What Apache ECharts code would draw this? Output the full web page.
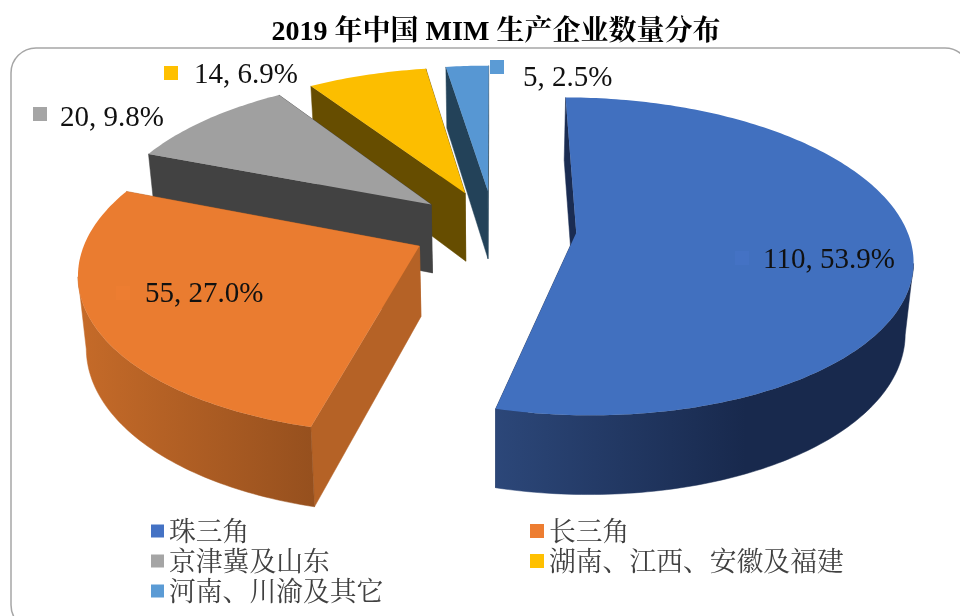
<!DOCTYPE html>
<html>
<head>
<meta charset="utf-8">
<style>html,body{margin:0;padding:0;background:#fff}#c{width:960px;height:616px}</style>
<script src="https://cdn.jsdelivr.net/npm/echarts@6/dist/echarts.min.js"></script>
</head>
<body>
<div id="c"></div>
<script>
const categories = ['珠三角', '长三角', '京津冀及山东', '湖南、江西、安徽及福建', '河南、川渝及其它'];
const values = [110, 55, 20, 14, 5];
const titleText = '2019 年中国 MIM 生产企业数量分布';

const keyColors = ['#4472C4', '#ED7D31', '#A5A5A5', '#FFC000', '#5B9BD5'];
const topColors = ['#4170BF', '#EA7C30', '#A0A0A0', '#FCBE00', '#5797D3'];
const wallColors = ['#1A2C52', '#B56226', '#424242', '#664D00', '#234259'];
const rimStops = [
  [[0, '#2C4779'], [0.6, '#18294D'], [1, '#18294D']],
  [[0, '#C66B29'], [1, '#96501E']],
  [[0, '#424242'], [1, '#424242']],
  [[0, '#664D00'], [1, '#664D00']],
  [[0, '#234259'], [1, '#234259']]
];
const rimSpan = [[495, 912], [75, 313], [100, 430], [300, 470], [440, 490]];
const drawOrder = [4, 3, 2, 1, 0];
const labelAt = [[763, 260], [145, 294], [60, 118], [194, 75], [523, 78]];
const keyAt = [[735, 251], [116, 286], [33, 107], [164, 66], [490, 60]];

const firstAngle = 0, explosion = 0.25;
const cx = 494, cy = 228, radiusX = 330, radiusY = 154, persp = 0.148, depth = 69.7, depthPower = 0.775, shrink = 0.98;

const total = values.reduce((a, b) => a + b, 0);
function sliceRange(i) {
  let a = firstAngle;
  for (let j = 0; j < i; j++) a += values[j] / total * 360;
  return [a, a + values[i] / total * 360];
}
function project(u, v) {
  const w = 1 - persp * v;
  return { x: cx + radiusX * u / w, y: cy + radiusY * v / w, w };
}
function lower(p) {
  return [cx + (p.x - cx) * shrink, p.y + depth / Math.pow(p.w, depthPower)];
}

function renderSlice(i) {
  const [a0, a1] = sliceRange(i);
  const mid = (a0 + a1) / 2 * Math.PI / 180;
  const ou = explosion * Math.sin(mid), ov = -explosion * Math.cos(mid);
  const apex = project(ou, ov);
  const rim = [];
  const steps = Math.max(12, Math.round(a1 - a0));
  for (let s = 0; s <= steps; s++) {
    const t = (a0 + (a1 - a0) * s / steps) * Math.PI / 180;
    rim.push(project(ou + Math.sin(t), ov - Math.cos(t)));
  }
  const xy = p => [p.x, p.y];
  const first = rim[0], last = rim[rim.length - 1];
  const children = [];
  const quad = (p, q, fill) => ({ type: 'polygon', shape: { points: [xy(p), xy(q), lower(q), lower(p)] },
    style: { fill, stroke: fill, lineWidth: 0.5 } });
  children.push(quad(apex, last, wallColors[i]));
  children.push(quad(apex, first, wallColors[i]));
  const vis = rim.filter((p, n) => (n < rim.length - 1 && rim[n + 1].x < p.x) || (n > 0 && rim[n - 1].x > p.x));
  if (vis.length > 1) {
    const pts = vis.map(xy).concat(vis.slice().reverse().map(lower));
    const grad = new echarts.graphic.LinearGradient(rimSpan[i][0], 0, rimSpan[i][1], 0,
      rimStops[i].map(s => ({ offset: s[0], color: s[1] })), true);
    children.push({ type: 'polygon', shape: { points: pts }, style: { fill: grad, stroke: grad, lineWidth: 0.5 } });
  }
  children.push({ type: 'polygon', shape: { points: [xy(apex)].concat(rim.map(xy)) },
    style: { fill: topColors[i] } });
  children.push({ type: 'rect', shape: { x: keyAt[i][0], y: keyAt[i][1], width: 14, height: 14 },
    style: { fill: keyColors[i] } });
  const pct = (values[i] / total * 100).toFixed(1);
  children.push({ type: 'text', x: labelAt[i][0], y: labelAt[i][1], style: {
    text: values[i] + ', ' + pct + '%', fill: '#111', textAlign: 'left', textVerticalAlign: 'middle',
    font: '29px "Liberation Serif", "Times New Roman", serif' } });
  return { type: 'group', children };
}

const series = drawOrder.map(i => ({
  type: 'custom',
  name: categories[i],
  coordinateSystem: 'none',
  animation: false,
  silent: true,
  itemStyle: { color: keyColors[i] },
  data: [values[i]],
  renderItem: () => renderSlice(i)
}));

const legendFont = { fontFamily: '"Noto Serif CJK SC", "Noto Sans CJK SC", serif', fontSize: 26.8, color: '#404040', lineHeight: 30 };
const chart = echarts.init(document.getElementById('c'), null, { renderer: 'canvas' });
chart.setOption({
  animation: false,
  backgroundColor: '#fff',
  title: {
    text: titleText, left: 491, top: 14, textAlign: 'center',
    textStyle: { fontFamily: '"Liberation Serif", "Noto Serif CJK SC", "Noto Sans CJK SC", serif', fontSize: 28, fontWeight: 'bold', color: '#000' }
  },
  legend: [
    { orient: 'vertical', left: 151, top: 516, itemWidth: 13, itemHeight: 13, itemGap: 0, icon: 'rect', textStyle: legendFont, padding: 0, selectedMode: false,
      data: [categories[0], categories[2], categories[4]] },
    { orient: 'vertical', left: 530, top: 516, itemWidth: 14, itemHeight: 14, itemGap: 0, icon: 'rect', textStyle: legendFont, padding: 0, selectedMode: false,
      data: [categories[1], categories[3]] }
  ],
  graphic: [{ type: 'rect', z: -1, silent: true, shape: { x: 11, y: 48, width: 959, height: 582, r: 25 },
    style: { fill: '#fff', stroke: '#A6A6A6', lineWidth: 1.5 } }],
  series
});
</script>
</body>
</html>
